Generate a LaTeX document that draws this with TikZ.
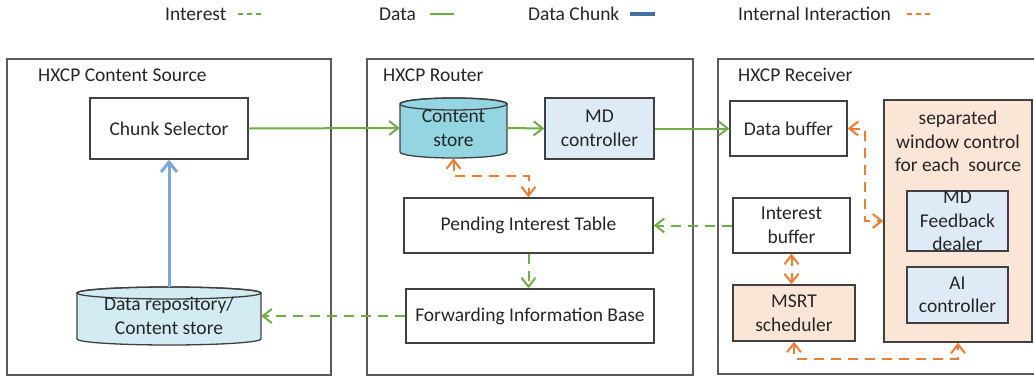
\documentclass[tikz,border=0pt]{standalone}
\usepackage{fontspec}
\setmainfont{Carlito}
\usetikzlibrary{arrows.meta,calc}
\definecolor{boxgray}{HTML}{404040}
\definecolor{outgray}{HTML}{595959}
\definecolor{dgreen}{HTML}{70AD47}
\definecolor{dorange}{HTML}{ED7D31}
\definecolor{chunkblue}{HTML}{7BA7D9}
\definecolor{legblue}{HTML}{41719C}
\definecolor{cyanfill}{HTML}{93D6E2}
\definecolor{lcyanfill}{HTML}{D3ECF3}
\definecolor{lbluefill}{HTML}{DEEBF7}
\definecolor{peach}{HTML}{FBE5D6}
\definecolor{txtgray}{HTML}{262626}
\tikzset{
  every node/.style={font=\fontsize{19.5}{23.5}\selectfont, text=txtgray},
  outer/.style={draw=outgray, line width=1.5pt},
  box/.style={draw=boxgray, line width=1.3pt, align=center, inner sep=0pt},
  ghost/.style={align=center, inner sep=0pt},
  dataln/.style={draw=dgreen, line width=2pt, -{Straight Barb[length=9pt,width=14pt,line width=2pt]}},
  intln/.style={draw=dgreen, line width=2pt, dash pattern=on 10pt off 7pt, -{Straight Barb[length=9pt,width=14pt,line width=2pt]}},
  interln/.style={draw=dorange, line width=2pt, dash pattern=on 10pt off 7pt, {Straight Barb[length=9pt,width=14pt,line width=2pt]}-{Straight Barb[length=9pt,width=14pt,line width=2pt]}},
  chunkln/.style={draw=chunkblue, line width=3pt, -{Straight Barb[length=10pt,width=16pt,line width=3pt]}},
}
\begin{document}
\begin{tikzpicture}[x=1pt,y=1pt]
\useasboundingbox (0,0) rectangle (1034,-378);
% legend
\node[anchor=west, inner sep=0pt] (lgi) at (165,-14) {Interest};
\coordinate (lgi1) at (238,-14); \coordinate (lgi2) at (263,-14);
\draw[dgreen, line width=2pt, dash pattern=on 5pt off 4pt] (lgi1) -- (lgi2);
\node[anchor=west, inner sep=0pt] (lgd) at (379,-14) {Data};
\coordinate (lgd1) at (430,-14); \coordinate (lgd2) at (454,-14);
\draw[dgreen, line width=2.2pt] (lgd1) -- (lgd2);
\node[anchor=west, inner sep=0pt] (lgc) at (528,-14) {Data Chunk};
\coordinate (lgc1) at (630,-14); \coordinate (lgc2) at (655,-14);
\draw[legblue, line width=3.8pt] (lgc1) -- (lgc2);
\node[anchor=west, inner sep=0pt] (lgo) at (738,-14) {Internal Interaction};
\coordinate (lgo1) at (907,-14); \coordinate (lgo2) at (932,-14);
\draw[dorange, line width=2pt, dash pattern=on 5pt off 4pt] (lgo1) -- (lgo2);
% outer boxes
\draw[outer] (7,-59) rectangle (331,-375);
\draw[outer] (367,-59) rectangle (693,-375);
\draw[outer] (718,-59) rectangle (1040,-374);
\node[anchor=west, inner sep=0pt] (t1) at (38,-75) {HXCP Content Source};
\node[anchor=west, inner sep=0pt] (t2) at (383,-75) {HXCP Router};
\node[anchor=west, inner sep=0pt] (t3) at (738,-75) {HXCP Receiver};
% content source
\node[box, minimum width=158pt, minimum height=61pt] (chunk) at (169,-128.5) {Chunk Selector};
% data repository cylinder
\filldraw[draw=boxgray, fill=lcyanfill, line width=1.3pt] (77,-293) -- (77,-339) arc[start angle=180,end angle=360,x radius=92,y radius=6] -- (261,-293) arc[start angle=0,end angle=180,x radius=92,y radius=6] -- cycle;
\draw[boxgray, line width=1.3pt] (169,-293) ellipse[x radius=92, y radius=6];
\node[ghost, minimum width=184pt, minimum height=58pt] (repo) at (169,-316) {Data repository/\\Content store};
% router
\filldraw[draw=boxgray, fill=cyanfill, line width=1.3pt] (400,-104) -- (400,-152) arc[start angle=180,end angle=360,x radius=53.5,y radius=6] -- (507,-104) arc[start angle=0,end angle=180,x radius=53.5,y radius=6] -- cycle;
\draw[boxgray, line width=1.3pt] (453.5,-104) ellipse[x radius=53.5, y radius=6];
\node[ghost, minimum width=107pt, minimum height=60pt] (cs) at (453.5,-128) {Content\\store};
\node[box, fill=lbluefill, minimum width=109pt, minimum height=61pt] (md) at (599.5,-128.5) {MD\\controller};
\node[box, minimum width=249pt, minimum height=55pt] (pit) at (528.5,-225.5) {Pending Interest Table};
\node[box, minimum width=248pt, minimum height=54pt] (fib) at (530,-316) {Forwarding Information Base};
% receiver
\node[box, minimum width=117pt, minimum height=55pt] (db) at (788.5,-128.5) {Data buffer};
\node[box, minimum width=117pt, minimum height=55pt] (ib) at (791.5,-225.5) {Interest\\buffer};
\node[box, fill=peach, minimum width=122pt, minimum height=56pt] (msrt) at (794,-313) {MSRT\\scheduler};
\node[box, fill=peach, minimum width=148pt, minimum height=242pt] (win) at (958,-221) {};
\node[ghost] (wint) at (958,-141.5) {separated\\window control\\for each\ \ source};
\node[box, fill=lbluefill, minimum width=101pt, minimum height=60pt] (mdf) at (957.5,-221) {MD\\Feedback\\dealer};
\node[box, fill=lbluefill, minimum width=101pt, minimum height=56pt] (ai) at (957.5,-295) {AI\\controller};
% data connectors
\draw[dataln] (chunk.east) -- (cs.west);
\draw[dataln] (cs.east) -- (md.west);
\draw[dataln] (md.east) -- (db.west);
% chunk
\draw[chunkln] (repo.north) -- (chunk.south);
% interest
\draw[intln] (ib.west) -- (pit.east);
\draw[intln] (pit.south) -- (pit.south |- fib.north);
\draw[intln] (fib.west) -- (repo.east);
% internal interaction
\draw[interln] (cs.south) -- ++(0,-18) -| (pit.north);
\draw[interln] (db.east) -- ++(17,0) |- (win.west);
\draw[interln] (ib.south) -- (ib.south |- msrt.north);
\draw[interln] (msrt.south) -- ++(0,-17) -| (win.south);
\end{tikzpicture}
\end{document}
